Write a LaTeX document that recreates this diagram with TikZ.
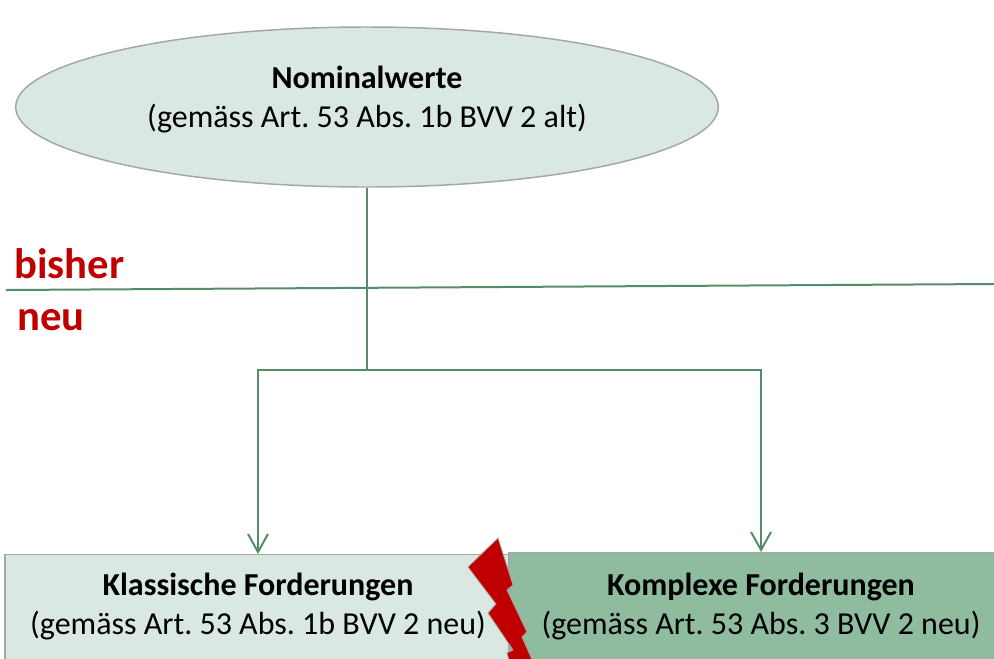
\documentclass[tikz,border=0pt]{standalone}
\usepackage{fontspec}
\setmainfont{Carlito}
\usetikzlibrary{shapes.geometric,arrows.meta,positioning}
\frenchspacing

\definecolor{paleGreen}{RGB}{217,232,224}
\definecolor{darkGreen}{RGB}{143,188,159}
\definecolor{lineGreen}{RGB}{84,141,104}
\definecolor{frameGray}{RGB}{166,166,166}
\definecolor{alarmRed}{RGB}{192,0,0}

\begin{document}
\begin{tikzpicture}[x=0.75pt,y=0.75pt,yscale=-1,xscale=1,
  every node/.style={font=\fontsize{24}{29}\selectfont},
  grayframe/.style={draw=frameGray,line width=1.1pt},
  link/.style={draw=lineGreen,line width=1.5pt},
  downarrow/.style={-{Straight Barb[length=13.5pt,width=15pt]}},
  redlabel/.style={text=alarmRed,font=\fontsize{32}{38}\selectfont\bfseries,inner sep=0pt,anchor=west}
]
\useasboundingbox (0,0) rectangle (994,658);
\clip (0,0) rectangle (994,658);

%Shape: Ellipse
\node[grayframe,fill=paleGreen,ellipse,minimum width=527pt,minimum height=120pt,inner sep=0pt,align=center,text depth=15pt] (nominal) at (367,107) {\textbf{Nominalwerte}\\(gemäss Art. 53 Abs. 1b BVV 2 alt)};

%Shape: Rectangle
\node[grayframe,fill=paleGreen,minimum width=379.5pt,minimum height=105pt,inner sep=0pt,anchor=north] (klassisch) at (258,554) {};
%Shape: Rectangle
\node[grayframe,fill=darkGreen,minimum width=378pt,minimum height=105pt,inner sep=0pt,anchor=north] (komplex) at (761,552) {};

% Text Node
\node[below=14pt of klassisch.north,inner sep=0pt,align=center] (klassischtext) {\textbf{Klassische Forderungen}\\(gemäss Art. 53 Abs. 1b BVV 2 neu)};
% Text Node
\node[below=15.5pt of komplex.north,inner sep=0pt,align=center] (komplextext) {\textbf{Komplexe Forderungen}\\(gemäss Art. 53 Abs. 3 BVV 2 neu)};

%Straight Lines
\coordinate (sepL) at (6,290);
\coordinate (sepR) at (994,284);
\draw[link] (sepL) -- (sepR);

% Text Node
\node[redlabel] (bisher) at (14,264) {bisher};
% Text Node
\node[redlabel] (neu) at (17,320) {neu};

%Connectors
\coordinate (split) at (367,370);
\draw[link] (nominal.south) -- (split);
\draw[link,downarrow] (split) -| (klassisch.north);
\draw[link,downarrow] (split) -| (komplex.north);

%Shape: Lightning
\draw[draw=frameGray,line width=0.6pt,fill=alarmRed] (498,538) -- (513,585) -- (507,590) -- (527,632) -- (522,637) -- (534,664) -- (510,664) -- (507,653) -- (513,650) -- (488,613) -- (496,604) -- (468,567) -- cycle;
\end{tikzpicture}
\end{document}
